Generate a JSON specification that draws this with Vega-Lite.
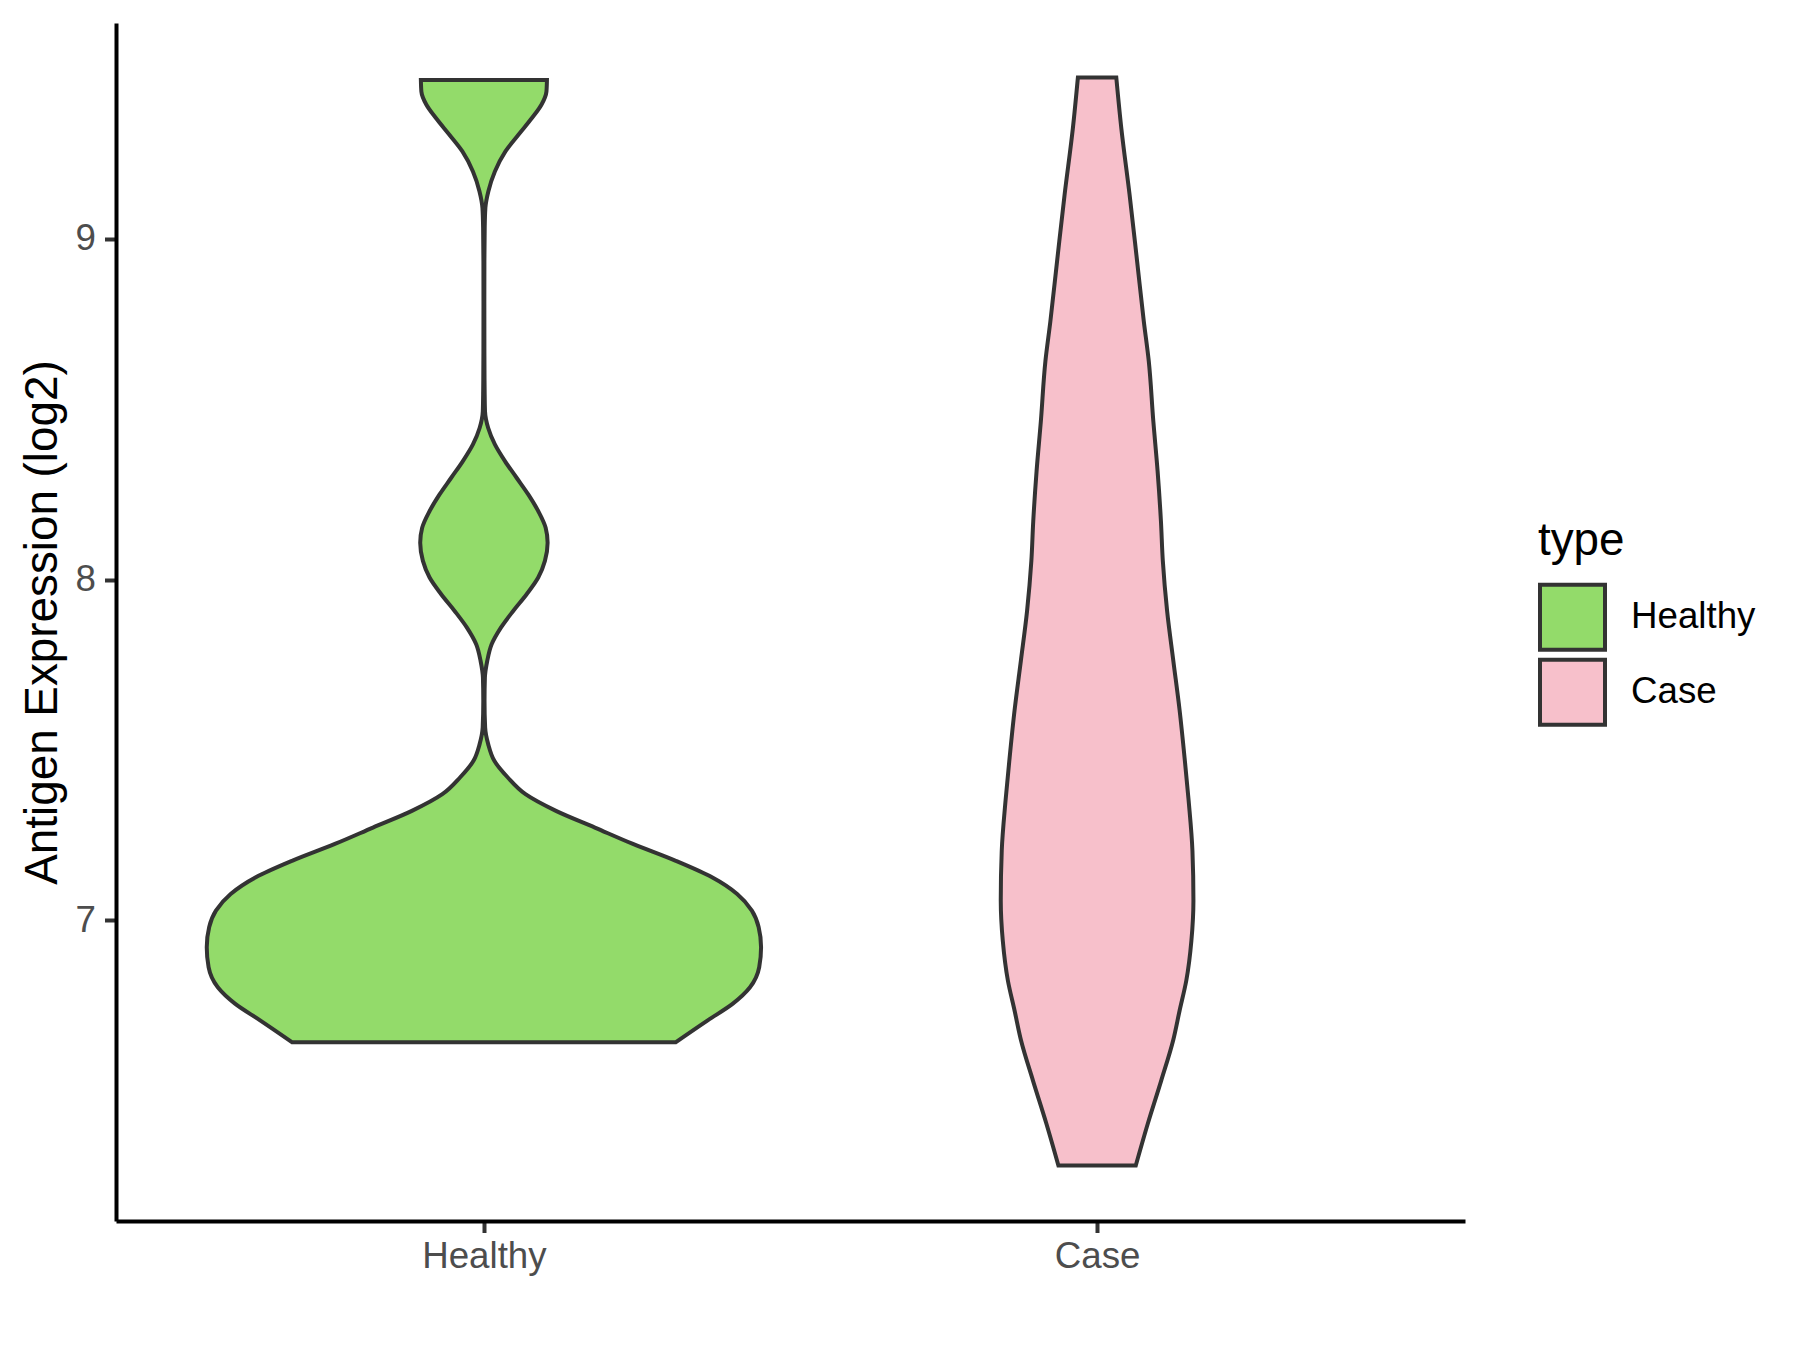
{
  "$schema": "https://vega.github.io/schema/vega-lite/v6.json",
  "autosize": "none",
  "width": 1349,
  "height": 1198,
  "padding": {"left": 116, "top": 23, "right": 335, "bottom": 129},
  "background": "white",
  "config": {
    "view": {"stroke": null},
    "font": "Liberation Sans",
    "axis": {
      "grid": false,
      "domainColor": "#000000",
      "domainWidth": 4,
      "tickColor": "#333333",
      "tickWidth": 4,
      "tickSize": 11.5,
      "labelFont": "Liberation Sans",
      "labelFontSize": 36.7,
      "labelColor": "#4D4D4D",
      "labelPadding": 9,
      "titleFont": "Liberation Sans",
      "titleFontSize": 45.8,
      "titleFontWeight": "normal",
      "titleColor": "#000000",
      "titlePadding": 9
    },
    "legend": {
      "titleFont": "Liberation Sans",
      "titleFontSize": 45.8,
      "titleFontWeight": "normal",
      "titleColor": "#000000",
      "labelFont": "Liberation Sans",
      "labelFontSize": 36.7,
      "labelColor": "#000000"
    }
  },
  "data": {
    "values": [
      {"type": "Healthy", "value": 9.467, "w": 0.1028},
      {"type": "Healthy", "value": 9.433, "w": 0.1020},
      {"type": "Healthy", "value": 9.394, "w": 0.0938},
      {"type": "Healthy", "value": 9.355, "w": 0.0783},
      {"type": "Healthy", "value": 9.306, "w": 0.0563},
      {"type": "Healthy", "value": 9.257, "w": 0.0351},
      {"type": "Healthy", "value": 9.198, "w": 0.0179},
      {"type": "Healthy", "value": 9.140, "w": 0.0073},
      {"type": "Healthy", "value": 9.091, "w": 0.0024},
      {"type": "Healthy", "value": 9.032, "w": 0.0013},
      {"type": "Healthy", "value": 8.934, "w": 0.0008},
      {"type": "Healthy", "value": 8.817, "w": 0.0007},
      {"type": "Healthy", "value": 8.670, "w": 0.0008},
      {"type": "Healthy", "value": 8.553, "w": 0.0012},
      {"type": "Healthy", "value": 8.494, "w": 0.0018},
      {"type": "Healthy", "value": 8.445, "w": 0.0070},
      {"type": "Healthy", "value": 8.397, "w": 0.0179},
      {"type": "Healthy", "value": 8.348, "w": 0.0343},
      {"type": "Healthy", "value": 8.299, "w": 0.0533},
      {"type": "Healthy", "value": 8.250, "w": 0.0723},
      {"type": "Healthy", "value": 8.201, "w": 0.0886},
      {"type": "Healthy", "value": 8.152, "w": 0.1007},
      {"type": "Healthy", "value": 8.108, "w": 0.1039},
      {"type": "Healthy", "value": 8.055, "w": 0.0995},
      {"type": "Healthy", "value": 8.006, "w": 0.0886},
      {"type": "Healthy", "value": 7.957, "w": 0.0697},
      {"type": "Healthy", "value": 7.908, "w": 0.0478},
      {"type": "Healthy", "value": 7.859, "w": 0.0277},
      {"type": "Healthy", "value": 7.810, "w": 0.0126},
      {"type": "Healthy", "value": 7.761, "w": 0.0054},
      {"type": "Healthy", "value": 7.712, "w": 0.0016},
      {"type": "Healthy", "value": 7.644, "w": 0.0010},
      {"type": "Healthy", "value": 7.566, "w": 0.0020},
      {"type": "Healthy", "value": 7.517, "w": 0.0070},
      {"type": "Healthy", "value": 7.468, "w": 0.0170},
      {"type": "Healthy", "value": 7.419, "w": 0.0390},
      {"type": "Healthy", "value": 7.370, "w": 0.0678},
      {"type": "Healthy", "value": 7.321, "w": 0.1175},
      {"type": "Healthy", "value": 7.272, "w": 0.1810},
      {"type": "Healthy", "value": 7.224, "w": 0.2430},
      {"type": "Healthy", "value": 7.175, "w": 0.3120},
      {"type": "Healthy", "value": 7.126, "w": 0.3720},
      {"type": "Healthy", "value": 7.077, "w": 0.4130},
      {"type": "Healthy", "value": 7.028, "w": 0.4370},
      {"type": "Healthy", "value": 6.980, "w": 0.4480},
      {"type": "Healthy", "value": 6.921, "w": 0.4520},
      {"type": "Healthy", "value": 6.862, "w": 0.4490},
      {"type": "Healthy", "value": 6.803, "w": 0.4340},
      {"type": "Healthy", "value": 6.755, "w": 0.4060},
      {"type": "Healthy", "value": 6.706, "w": 0.3650},
      {"type": "Healthy", "value": 6.642, "w": 0.3130},
      {"type": "Case", "value": 9.474, "w": 0.0313},
      {"type": "Case", "value": 9.325, "w": 0.0395},
      {"type": "Case", "value": 9.130, "w": 0.0530},
      {"type": "Case", "value": 8.934, "w": 0.0653},
      {"type": "Case", "value": 8.758, "w": 0.0762},
      {"type": "Case", "value": 8.641, "w": 0.0843},
      {"type": "Case", "value": 8.465, "w": 0.0917},
      {"type": "Case", "value": 8.318, "w": 0.0987},
      {"type": "Case", "value": 8.172, "w": 0.1041},
      {"type": "Case", "value": 8.055, "w": 0.1072},
      {"type": "Case", "value": 7.908, "w": 0.1142},
      {"type": "Case", "value": 7.762, "w": 0.1243},
      {"type": "Case", "value": 7.616, "w": 0.1346},
      {"type": "Case", "value": 7.467, "w": 0.1432},
      {"type": "Case", "value": 7.351, "w": 0.1493},
      {"type": "Case", "value": 7.204, "w": 0.1555},
      {"type": "Case", "value": 7.058, "w": 0.1571},
      {"type": "Case", "value": 6.940, "w": 0.1538},
      {"type": "Case", "value": 6.823, "w": 0.1455},
      {"type": "Case", "value": 6.735, "w": 0.1346},
      {"type": "Case", "value": 6.647, "w": 0.1240},
      {"type": "Case", "value": 6.530, "w": 0.1047},
      {"type": "Case", "value": 6.404, "w": 0.0829},
      {"type": "Case", "value": 6.280, "w": 0.0631}
    ]
  },
  "transform": [
    {"calculate": "datum.type === 'Healthy' ? 1 : 2", "as": "pos"},
    {"calculate": "datum.pos - datum.w", "as": "lo"},
    {"calculate": "datum.pos + datum.w", "as": "hi"}
  ],
  "mark": {
    "type": "area",
    "orient": "horizontal",
    "interpolate": "monotone",
    "opacity": 1,
    "fillOpacity": 1,
    "stroke": "#333333",
    "strokeWidth": 4,
    "strokeJoin": "miter"
  },
  "encoding": {
    "y": {
      "field": "value",
      "type": "quantitative",
      "scale": {"domain": [6.117, 9.634], "nice": false, "zero": false},
      "axis": {"values": [7, 8, 9], "title": "Antigen Expression (log2)"}
    },
    "x": {
      "field": "lo",
      "type": "quantitative",
      "scale": {"domain": [0.4, 2.6], "nice": false, "zero": false},
      "axis": {
        "values": [1, 2],
        "title": null,
        "labelPadding": 5.5,
        "labelExpr": "datum.value === 1 ? 'Healthy' : 'Case'"
      }
    },
    "x2": {"field": "hi"},
    "color": {
      "field": "type",
      "type": "nominal",
      "scale": {"domain": ["Healthy", "Case"], "range": ["#93DB6A", "#F7C0CB"]},
      "legend": {
        "title": "type",
        "orient": "none",
        "legendX": 1422,
        "legendY": 496,
        "padding": 0,
        "titlePadding": 18,
        "symbolType": "square",
        "symbolSize": 4225,
        "symbolStrokeColor": "#333333",
        "symbolStrokeWidth": 4,
        "symbolOpacity": 1,
        "rowPadding": -7,
        "labelOffset": 24
      }
    },
    "detail": {"field": "type"}
  }
}
